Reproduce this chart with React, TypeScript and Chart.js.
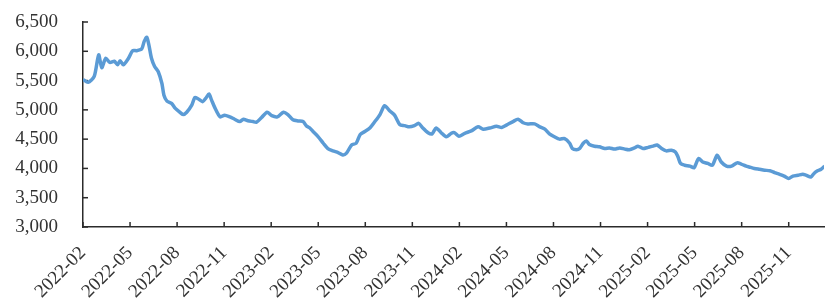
import React, { useEffect, useRef } from "react";
import { Chart, registerables } from "chart.js";

Chart.register(...registerables);

const tickLabels = [
  "2022-02", "2022-05", "2022-08", "2022-11",
  "2023-02", "2023-05", "2023-08", "2023-11",
  "2024-02", "2024-05", "2024-08", "2024-11",
  "2025-02", "2025-05", "2025-08", "2025-11",
];

const yTicks = [3000, 3500, 4000, 4500, 5000, 5500, 6000, 6500];

const dates = [
  "2022-02-01", "2022-02-10", "2022-02-21", "2022-03-01", "2022-03-07", "2022-03-15", "2022-03-23",
  "2022-04-01", "2022-04-07", "2022-04-12", "2022-04-18", "2022-04-28", "2022-05-06", "2022-05-14",
  "2022-05-24", "2022-05-29", "2022-06-03", "2022-06-07", "2022-06-12", "2022-06-18", "2022-06-25",
  "2022-07-02", "2022-07-06", "2022-07-12", "2022-07-21", "2022-07-28", "2022-08-05", "2022-08-13",
  "2022-08-20", "2022-08-30", "2022-09-05", "2022-09-11", "2022-09-20", "2022-09-26", "2022-10-02",
  "2022-10-07", "2022-10-14", "2022-10-24", "2022-11-02", "2022-11-12", "2022-11-21", "2022-12-01",
  "2022-12-08", "2022-12-17", "2022-12-27", "2023-01-03", "2023-01-13", "2023-01-24", "2023-02-02",
  "2023-02-12", "2023-02-23", "2023-03-03", "2023-03-13", "2023-03-23", "2023-04-02", "2023-04-08",
  "2023-04-15", "2023-04-21", "2023-05-01", "2023-05-11", "2023-05-20", "2023-05-30", "2023-06-09",
  "2023-06-18", "2023-06-25", "2023-07-05", "2023-07-14", "2023-07-22", "2023-07-31", "2023-08-10",
  "2023-08-20", "2023-08-30", "2023-09-08", "2023-09-18", "2023-09-27", "2023-10-07", "2023-10-17",
  "2023-10-26", "2023-11-05", "2023-11-13", "2023-11-21", "2023-12-01", "2023-12-09", "2023-12-17",
  "2023-12-27", "2024-01-06", "2024-01-16", "2024-01-22", "2024-01-31", "2024-02-11", "2024-02-23",
  "2024-03-07", "2024-03-17", "2024-03-30", "2024-04-12", "2024-04-22", "2024-05-01", "2024-05-14",
  "2024-05-24", "2024-06-03", "2024-06-12", "2024-06-25", "2024-07-05", "2024-07-15", "2024-07-24",
  "2024-08-03", "2024-08-13", "2024-08-23", "2024-09-02", "2024-09-07", "2024-09-15", "2024-09-21",
  "2024-09-28", "2024-10-04", "2024-10-10", "2024-10-20", "2024-10-30", "2024-11-09", "2024-11-18",
  "2024-11-28", "2024-12-08", "2024-12-18", "2024-12-27", "2025-01-06", "2025-01-13", "2025-01-23",
  "2025-02-02", "2025-02-11", "2025-02-18", "2025-02-26", "2025-03-07", "2025-03-17", "2025-03-25",
  "2025-03-30", "2025-04-04", "2025-04-12", "2025-04-22", "2025-04-30", "2025-05-04", "2025-05-09",
  "2025-05-17", "2025-05-27", "2025-06-05", "2025-06-14", "2025-06-22", "2025-07-02", "2025-07-12",
  "2025-07-23", "2025-07-31", "2025-08-10", "2025-08-16", "2025-08-26", "2025-09-05", "2025-09-15",
  "2025-09-25", "2025-10-04", "2025-10-14", "2025-10-23", "2025-11-01", "2025-11-09", "2025-11-19",
  "2025-11-28", "2025-12-04", "2025-12-14", "2025-12-20", "2025-12-27", "2026-01-03", "2026-01-10",
];

const values = [
  5520, 5470, 5570, 5940, 5720, 5880, 5810,
  5830, 5770, 5840, 5770, 5880, 6010, 6010,
  6040, 6170, 6240, 6110, 5880, 5740, 5650,
  5450, 5250, 5150, 5110, 5030, 4970, 4920,
  4960, 5080, 5210, 5190, 5140, 5200, 5270,
  5170, 5030, 4880, 4910, 4880, 4840, 4800,
  4840, 4815, 4800, 4790, 4870, 4960, 4900,
  4880, 4960, 4920, 4830, 4810, 4800, 4730,
  4690, 4630, 4540, 4430, 4340, 4300, 4270,
  4230, 4260, 4400, 4430, 4580, 4630, 4690,
  4800, 4920, 5070, 4980, 4910, 4750, 4730,
  4710, 4730, 4770, 4690, 4610, 4590, 4690,
  4610, 4540, 4600, 4610, 4550, 4600, 4640,
  4710, 4670, 4690, 4720, 4700, 4740, 4800,
  4840, 4780, 4760, 4760, 4710, 4670, 4590,
  4540, 4500, 4510, 4430, 4340, 4320, 4340,
  4430, 4470, 4410, 4380, 4370, 4340, 4350,
  4330, 4350, 4330, 4320, 4350, 4380, 4340,
  4360, 4380, 4400, 4340, 4300, 4310, 4280,
  4200, 4085, 4055, 4040, 4010, 4085, 4170,
  4110, 4085, 4055, 4225, 4110, 4040, 4040,
  4095, 4075, 4040, 4025, 4000, 3985, 3970,
  3960, 3930, 3900, 3870, 3830, 3870, 3885,
  3900, 3885, 3855, 3915, 3960, 3985, 4040,
];

const START_YEAR = 2022;
const START_MONTH = 2;
const X_MAX_MONTHS = 47.25;

function monthIndex(s: string): number {
  const [y, m, d] = s.split("-").map(Number);
  const dim = new Date(Date.UTC(y, m, 0)).getUTCDate();
  return (y - START_YEAR) * 12 + (m - START_MONTH) + (d - 1) / dim;
}

const FONT = "'Liberation Serif', 'Times New Roman', serif";
const AXIS_COLOR = "#2b2b2b";

const innerTicks = {
  id: "innerTicks",
  beforeDatasetsDraw(chart: any) {
    const { ctx, chartArea, scales } = chart;
    const x = scales.x;
    const y = scales.y;
    ctx.save();
    ctx.strokeStyle = AXIS_COLOR;
    ctx.lineWidth = 1.5;
    y.ticks.forEach((t: any) => {
      const py = y.getPixelForValue(t.value);
      ctx.beginPath();
      ctx.moveTo(chartArea.left, py);
      ctx.lineTo(chartArea.left + 5, py);
      ctx.stroke();
    });
    x.ticks.forEach((t: any) => {
      const px = x.getPixelForValue(t.value);
      ctx.beginPath();
      ctx.moveTo(px, chartArea.bottom);
      ctx.lineTo(px, chartArea.bottom - 5);
      ctx.stroke();
    });
    ctx.restore();
  },
};

export default function App() {
  const ref = useRef<HTMLCanvasElement | null>(null);

  useEffect(() => {
    if (!ref.current) return;
    const points = dates.map((d, i) => ({ x: monthIndex(d), y: values[i] }));
    const chart = new Chart(ref.current, {
      type: "line",
      data: {
        datasets: [
          {
            data: points,
            borderColor: "#5b9bd5",
            borderWidth: 3.5,
            pointRadius: 0,
            tension: 0.25,
            fill: false,
          },
        ],
      },
      options: {
        animation: false,
        responsive: true,
        maintainAspectRatio: false,
        layout: { padding: { top: 22, right: 7, left: 0, bottom: 0 } },
        plugins: { legend: { display: false }, tooltip: { enabled: false } },
        scales: {
          x: {
            type: "linear",
            min: 0,
            max: X_MAX_MONTHS,
            grid: { display: false, drawTicks: false },
            border: { display: true, color: AXIS_COLOR, width: 1.5 },
            afterBuildTicks: (scale: any) => {
              scale.ticks = tickLabels.map((_, i) => ({ value: i * 3 }));
            },
            afterFit: (scale: any) => {
              scale.height = 81;
            },
            ticks: {
              autoSkip: false,
              maxRotation: 45,
              minRotation: 45,
              padding: 15,
              color: "#333",
              font: { family: FONT, size: 19 },
              callback: (v: any) => tickLabels[Math.round(Number(v) / 3)] ?? "",
            },
          },
          y: {
            min: 3000,
            max: 6500,
            grid: { display: false, drawTicks: false },
            border: { display: true, color: AXIS_COLOR, width: 1.5 },
            afterBuildTicks: (scale: any) => {
              scale.ticks = yTicks.map((v) => ({ value: v }));
            },
            afterFit: (scale: any) => {
              scale.width = 83;
              scale.paddingTop = 0;
              scale.paddingBottom = 0;
            },
            ticks: {
              padding: 25,
              color: "#333",
              font: { family: FONT, size: 19 },
              callback: (v: any) => Number(v).toLocaleString("en-US"),
            },
          },
        },
      },
      plugins: [innerTicks],
    });
    return () => chart.destroy();
  }, []);

  return (
    <div style={{ position: "absolute", left: 0, top: 0, width: 831, height: 308 }}>
      <canvas ref={ref} />
    </div>
  );
}
